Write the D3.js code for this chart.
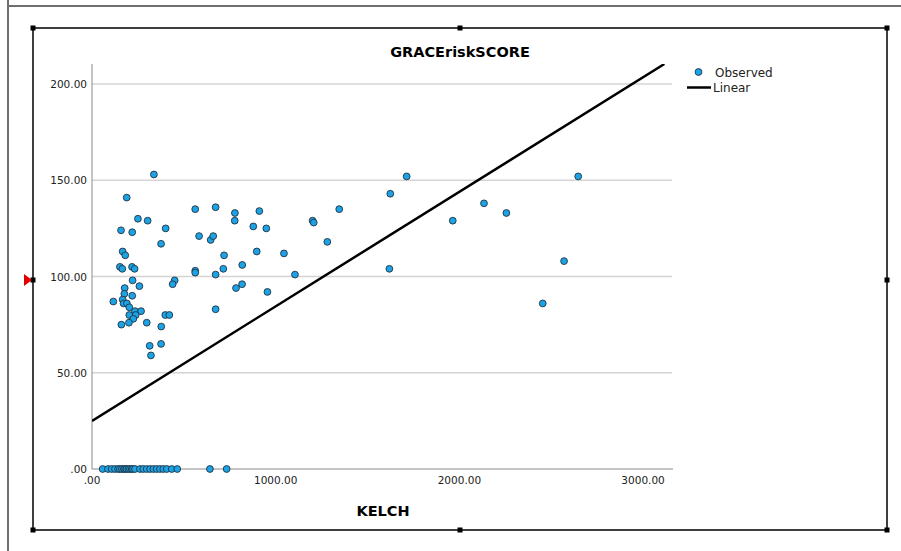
<!DOCTYPE html>
<html>
<head>
<meta charset="utf-8">
<script src="https://cdn.jsdelivr.net/npm/d3@7"></script>
<style>
  body { margin: 0; background: #fff; }
  text { font-family: "DejaVu Sans", sans-serif; }
  .grid { stroke: #d4d4d4; stroke-width: 1.5; }
  .axis { stroke: #8a8a8a; stroke-width: 1; }
  .tick-label { font-size: 10.5px; fill: #222; }
</style>
</head>
<body>
<div id="myDiv"></div>
<script>
// data
var kelch = [337, 189, 562, 673, 778, 777, 911, 878, 949, 250, 303, 158, 219, 401, 583, 646, 660, 376,
    167, 181, 719, 897, 818, 152, 165, 218, 232, 562, 562, 715, 673, 221, 450, 439, 258, 784, 817, 955,
    178, 176, 167, 219, 116, 172, 190, 203, 234, 267, 203, 238, 225, 673, 399, 421, 160, 201, 298, 377,
    376, 314, 321, 1713, 1624, 1346, 1201, 1207, 1281, 1045, 1105, 1619, 1964, 2647, 2134, 2256, 2570, 2454];
var grace = [153, 141, 135, 136, 133, 129, 134, 126, 125, 130, 129, 124, 123, 125, 121, 119, 121, 117,
    113, 111, 111, 113, 106, 105, 104, 105, 104, 103, 102, 104, 101, 98, 98, 96, 95, 94, 96, 92,
    94, 91, 88, 90, 87, 86, 86, 84, 82, 82, 80, 80, 78, 83, 80, 80, 75, 76, 76, 74,
    65, 64, 59, 152, 143, 135, 129, 128, 118, 112, 101, 104, 129, 152, 138, 133, 108, 86];
// cases with a score of zero
var kelchZero = [58, 87, 107, 125, 142, 152, 163, 174, 180, 188, 198, 207, 216, 223, 234, 261, 279,
    298, 316, 334, 352, 370, 388, 407, 434, 464, 642, 733];

var xTicks = [0, 1000, 2000, 3000];
var yTicks = [0, 50, 100, 150, 200];
var tickFormat = function(d) { return d === 0 ? ".00" : d3.format(".2f")(d); };

// linear fit shown in the chart
var fitIntercept = 25;
var fitSlope = 0.0595;

var width = 901;
var height = 551;
var svg = d3.select("#myDiv")
    .append("svg")
    .attr("width", width)
    .attr("height", height);

// window frame
svg.append("line").attr("x1", 8).attr("y1", 0).attr("x2", 8).attr("y2", height)
    .attr("stroke", "#6e6e6e").attr("stroke-width", 2);
svg.append("line").attr("x1", 8).attr("y1", 6).attr("x2", width).attr("y2", 6)
    .attr("stroke", "#6e6e6e").attr("stroke-width", 2);

// selection box with handles
svg.append("rect")
    .attr("x", 33).attr("y", 28).attr("width", 854).attr("height", 502)
    .attr("fill", "none").attr("stroke", "#000").attr("stroke-width", 1.5);
var handles = [[33, 28], [460, 28], [887, 28], [33, 280], [887, 280], [33, 530], [460, 530], [887, 530]];
svg.selectAll(".handle")
    .data(handles)
    .enter()
    .append("rect")
    .attr("class", "handle")
    .attr("x", d => d[0] - 2.5).attr("y", d => d[1] - 2.5)
    .attr("width", 5).attr("height", 5)
    .attr("fill", "#000");
svg.append("path")
    .attr("d", "M24,274L32,280L24,286Z")
    .attr("fill", "#e00000");

// scales
var x = d3.scaleLinear().domain([0, 3163]).range([92, 673]);
var y = d3.scaleLinear().domain([0, 210.4]).range([469, 64]);

// gridlines
svg.selectAll(".grid")
    .data(yTicks.filter(d => d > 0))
    .enter()
    .append("line")
    .attr("class", "grid")
    .attr("x1", x(0)).attr("x2", 672)
    .attr("y1", d => y(d)).attr("y2", d => y(d));

// axes
svg.append("line").attr("class", "axis")
    .attr("x1", x(0)).attr("x2", x(0)).attr("y1", y(0)).attr("y2", 64);
svg.append("line").attr("class", "axis")
    .attr("x1", x(0)).attr("x2", 673).attr("y1", y(0)).attr("y2", y(0));

svg.selectAll(".ylab")
    .data(yTicks)
    .enter()
    .append("text")
    .attr("class", "tick-label")
    .attr("x", 87)
    .attr("y", d => y(d) + 4)
    .attr("text-anchor", "end")
    .text(tickFormat);

svg.selectAll(".xlab")
    .data(xTicks)
    .enter()
    .append("text")
    .attr("class", "tick-label")
    .attr("x", d => x(d))
    .attr("y", 484)
    .attr("text-anchor", "middle")
    .text(tickFormat);

// fit line, clipped to the plot area
svg.append("clipPath").attr("id", "plotClip")
    .append("rect").attr("x", 92).attr("y", 64).attr("width", 581).attr("height", 405);

var xEnd = (210.4 - fitIntercept) / fitSlope;
svg.append("line")
    .attr("clip-path", "url(#plotClip)")
    .attr("x1", x(0)).attr("y1", y(fitIntercept))
    .attr("x2", x(xEnd)).attr("y2", y(fitIntercept + fitSlope * xEnd))
    .attr("stroke", "#000").attr("stroke-width", 2.5);

// points
var points = kelch.map((k, i) => ({ x: k, y: grace[i] }))
    .concat(kelchZero.map(k => ({ x: k, y: 0 })));

svg.selectAll("circle.pt")
    .data(points)
    .enter()
    .append("circle")
    .attr("class", "pt")
    .attr("cx", d => x(d.x))
    .attr("cy", d => y(d.y))
    .attr("r", 3.4)
    .attr("fill", "#1ba3e6")
    .attr("stroke", "#23323f")
    .attr("stroke-width", 0.9);

// titles
svg.append("text")
    .attr("x", 460).attr("y", 57)
    .attr("text-anchor", "middle")
    .style("font-size", "14.5px").style("font-weight", "bold")
    .text("GRACEriskSCORE");

svg.append("text")
    .attr("x", 383).attr("y", 516)
    .attr("text-anchor", "middle")
    .style("font-size", "14.5px").style("font-weight", "bold")
    .text("KELCH");

// legend
svg.append("circle")
    .attr("cx", 698.5).attr("cy", 72)
    .attr("r", 3.4)
    .attr("fill", "#1ba3e6").attr("stroke", "#23323f").attr("stroke-width", 0.9);
svg.append("text")
    .attr("x", 715).attr("y", 76.5)
    .style("font-size", "12px").style("fill", "#222")
    .text("Observed");
svg.append("line")
    .attr("x1", 687).attr("x2", 711).attr("y1", 87.5).attr("y2", 87.5)
    .attr("stroke", "#000").attr("stroke-width", 2.5);
svg.append("text")
    .attr("x", 713).attr("y", 92)
    .style("font-size", "12px").style("fill", "#222")
    .text("Linear");
</script>
</body>
</html>
